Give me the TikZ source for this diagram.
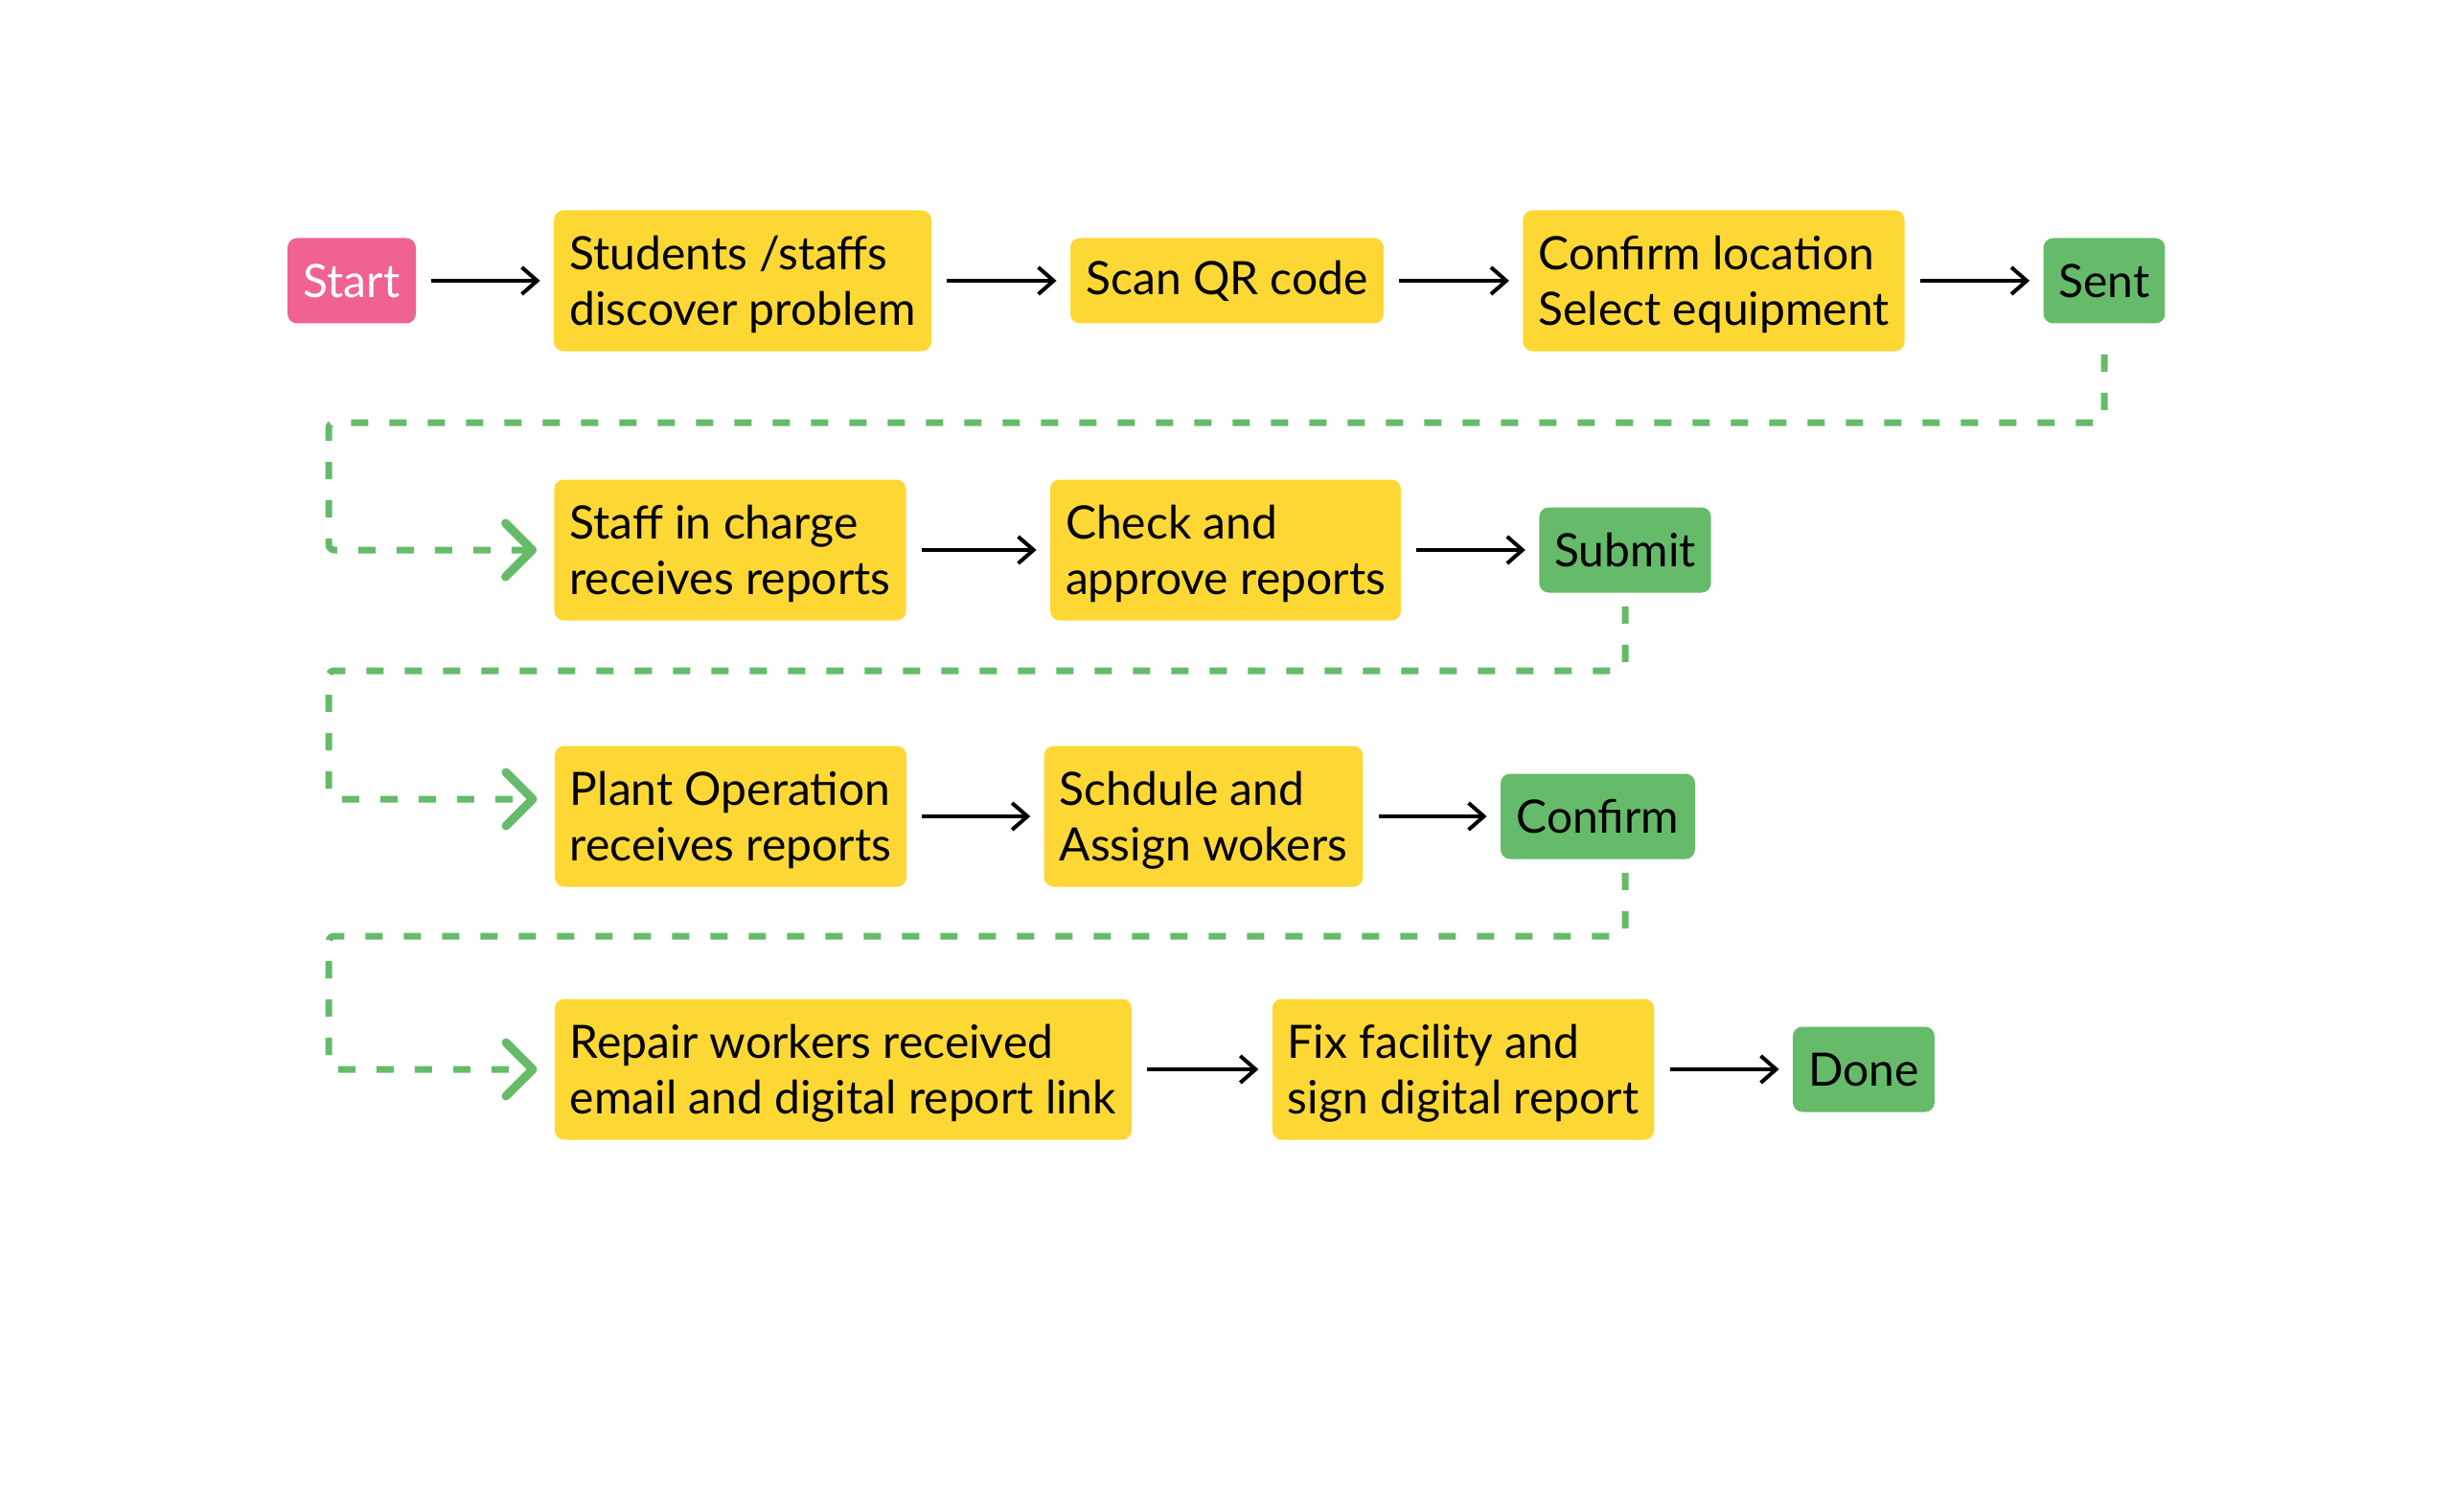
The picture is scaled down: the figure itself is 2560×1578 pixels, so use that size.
\documentclass[tikz,border=0pt]{standalone}
\usepackage{fontspec}
\setmainfont{Lato}
\usetikzlibrary{arrows.meta,calc}
\definecolor{boxyellow}{HTML}{FDD835}
\definecolor{boxgreen}{HTML}{66BB6A}
\definecolor{boxpink}{HTML}{F06292}
\begin{document}
\begin{tikzpicture}[x=0.5pt,y=-0.5pt,
  box/.style={rounded corners=5pt, inner xsep=8pt, inner ysep=0pt,
    font=\fontsize{24}{28.8}\selectfont, text=black, anchor=center},
  twoline/.style={box, fill=boxyellow, minimum height=73.5pt, minimum width=#1,
    align=left, text depth=-3pt},
  oneline/.style={box, fill=boxyellow, minimum height=44.5pt, minimum width=#1},
  term/.style={box, fill=boxgreen, minimum height=44.5pt, minimum width=#1},
  startbox/.style={box, fill=boxpink, text=white, minimum height=44.5pt, minimum width=#1},
  flow/.style={line width=2pt, -{Straight Barb[length=8pt,width=14pt]},
    shorten <=8pt, shorten >=7pt},
  loopback/.style={draw=boxgreen, line width=3.5pt, dash pattern=on 9pt off 11pt,
    rounded corners=3pt, -{Straight Barb[length=14pt,width=28pt,line width=4.5pt,round]},
    shorten <=7pt, shorten >=9pt}
]
\useasboundingbox (0,0) rectangle (2560,1578);

% row 1
\node[startbox=67pt] (start) at (367,293) {Start};
\node[twoline=197pt] (students) at (775,293) {Students /staffs\\discover problem};
\node[oneline=163.5pt] (scan) at (1280.5,293) {Scan QR code};
\node[twoline=198.5pt] (confloc) at (1788.5,293) {Confirm location\\Select equipment};
\node[term=63pt] (sent) at (2196,293) {Sent};

% row 2
\node[twoline=183pt] (staff) at (762,574) {Staff in charge\\receives reports};
\node[twoline=183pt] (check) at (1279,574) {Check and\\approve reports};
\node[term=89pt] (submit) at (1696,574) {Submit};

% row 3
\node[twoline=183.5pt] (plant) at (762.5,852) {Plant Operation\\receives reports};
\node[twoline=165pt] (schdule) at (1256,852) {Schdule and\\Assign wokers};
\node[term=101.5pt] (confirm) at (1667.5,852) {Confirm};

% row 4
\node[twoline=301pt] (repair) at (880,1116) {Repair workers received\\email and digital report link};
\node[twoline=199pt] (fix) at (1527,1116) {Fix facility and\\sign digital report};
\node[term=74pt] (done) at (1945,1116) {Done};

% flow arrows
\draw[flow] (start) -- (students);
\draw[flow] (students) -- (scan);
\draw[flow] (scan) -- (confloc);
\draw[flow] (confloc) -- (sent);
\draw[flow] (staff) -- (check);
\draw[flow] (check) -- (submit);
\draw[flow] (plant) -- (schdule);
\draw[flow] (schdule) -- (confirm);
\draw[flow] (repair) -- (fix);
\draw[flow] (fix) -- (done);

% loop-back connectors
\coordinate (l1) at (343,441);
\coordinate (l2) at (343,700);
\coordinate (l3) at (343,977);
\coordinate (conout) at (confirm.south -| submit.south);
\draw[loopback, shorten <=16pt] (sent.south) |- (l1) |- (staff.west);
\draw[loopback] (submit.south) |- (l2) |- ([yshift=9pt]plant.west);
\draw[loopback] (conout) |- (l3) |- (repair.west);
\end{tikzpicture}
\end{document}
